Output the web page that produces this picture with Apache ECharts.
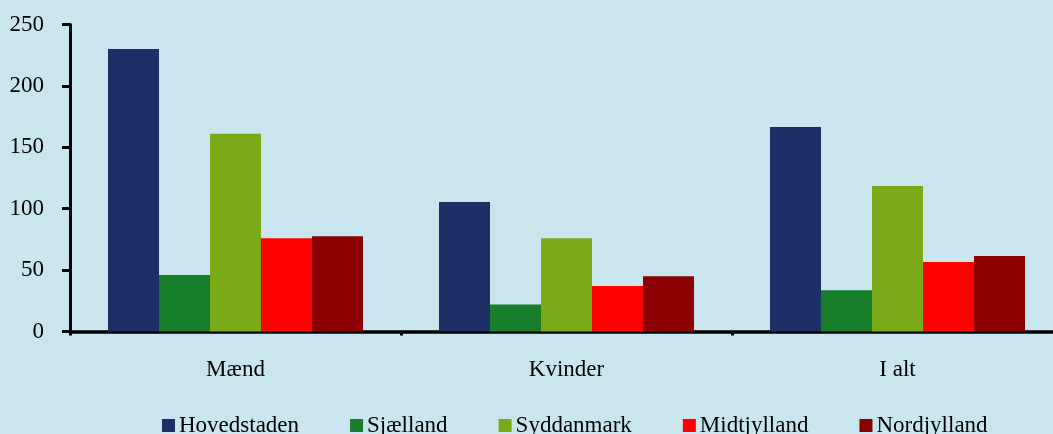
<!DOCTYPE html>
<html>
<head>
<meta charset="utf-8">
<script src="https://cdn.jsdelivr.net/npm/echarts@6/dist/echarts.min.js"></script>
<style>
html,body{margin:0;padding:0;background:#C9E6EE;overflow:hidden;width:1053px;height:434px;}
#c{width:1080px;height:434px;}
</style>
</head>
<body>
<div id="c"></div>
<script>
var categories = ['Mænd', 'Kvinder', 'I alt'];
var seriesNames = ['Hovedstaden', 'Sjælland', 'Syddanmark', 'Midtjylland', 'Nordjylland'];
var hovedstaden = [230, 105.5, 166.5];
var sjaelland = [46, 22, 33.5];
var syddanmark = [161, 76, 118.5];
var midtjylland = [76, 37, 56.5];
var nordjylland = [77.5, 45, 61.5];
var yTicks = [0, 50, 100, 150, 200, 250];

var colors = ['#1C3066', '#177D2B', '#7AAA18', '#FF0000', '#8B0000'];
var values = [hovedstaden, sjaelland, syddanmark, midtjylland, nordjylland];
var font = '"Liberation Serif", "Times New Roman", serif';

var chart = echarts.init(document.getElementById('c'), null, {renderer: 'canvas'});
chart.setOption({
  backgroundColor: '#C9E6EE',
  animation: false,
  color: colors,
  grid: {left: 70, top: 24.5, width: 993, height: 307, containLabel: false},
  legend: {
    data: seriesNames,
    left: 162, top: 414, padding: 0,
    itemWidth: 13, itemHeight: 13, itemGap: 51,
    icon: 'rect',
    textStyle: {fontFamily: font, fontSize: 23, color: '#000', padding: [0, 0, 0, -1]}
  },
  xAxis: {
    type: 'category',
    data: categories,
    axisLine: {lineStyle: {color: '#000', width: 3.5}},
    axisTick: {show: true, length: 4, lineStyle: {color: '#000', width: 3}},
    axisLabel: {fontFamily: font, fontSize: 23, color: '#000', margin: 27}
  },
  yAxis: {
    type: 'value',
    min: yTicks[0], max: yTicks[yTicks.length - 1], interval: 50,
    splitLine: {show: false},
    axisLine: {show: true, lineStyle: {color: '#000', width: 3}},
    axisTick: {show: true, length: 8, lineStyle: {color: '#000', width: 3}},
    axisLabel: {fontFamily: font, fontSize: 23, color: '#000', margin: 26}
  },
  series: seriesNames.map(function (n, i) {
    return {
      name: n, type: 'bar', data: values[i],
      barWidth: 51, barGap: '0%',
      itemStyle: {color: colors[i]}
    };
  })
});
</script>
</body>
</html>
